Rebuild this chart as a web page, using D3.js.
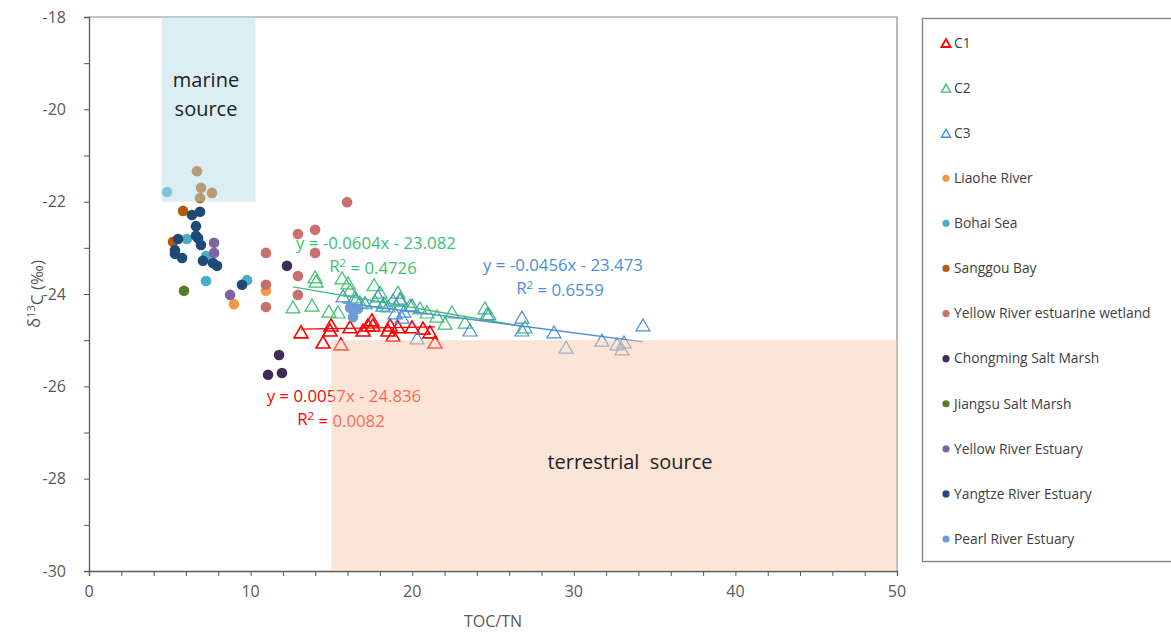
<!DOCTYPE html>
<html>
<head>
<meta charset="utf-8">
<script src="https://cdn.jsdelivr.net/npm/d3@7"></script>
<style>
  body { margin: 0; background: #fff; }
  svg { display: block; font-family: "Open Sans", sans-serif; }
</style>
</head>
<body>
<div id="chart"></div>
<script>
// sediment samples (TOC/TN, d13C)
const c1 = [[13.12,-24.82],[14.48,-25.04],[14.91,-24.78],[14.98,-24.67],[15.59,-25.08],[16.15,-24.71],
  [16.96,-24.78],[17.26,-24.67],[17.51,-24.56],[17.57,-24.67],[18.50,-24.78],[18.63,-24.67],[18.81,-24.89],
  [19.12,-24.71],[19.99,-24.71],[20.67,-24.74],[21.10,-24.82],[21.41,-25.04]];
const c2 = [[12.62,-24.28],[13.80,-24.24],[13.99,-23.63],[14.05,-23.72],[14.85,-24.37],[15.41,-24.39],
  [15.66,-23.65],[16.03,-23.76],[16.15,-23.91],[16.46,-24.06],[16.77,-24.17],[17.64,-23.80],[17.70,-24.15],
  [18.01,-23.96],[18.25,-24.19],[18.50,-24.26],[19.12,-23.96],[19.25,-24.13],[19.86,-24.24],[20.48,-24.30],
  [20.92,-24.39],[21.53,-24.48],[22.03,-24.63],[22.46,-24.39],[23.27,-24.61],[24.50,-24.30],[24.75,-24.43],
  [26.98,-24.71]];
const c3 = [[15.72,-24.04],[16.52,-24.11],[17.08,-24.19],[17.88,-24.04],[18.19,-24.24],[18.81,-24.13],
  [18.94,-24.41],[19.25,-24.09],[19.37,-24.50],[19.49,-24.37],[19.99,-24.24],[20.30,-24.95],[23.58,-24.78],
  [24.63,-24.43],[26.79,-24.50],[26.79,-24.78],[28.77,-24.82],[29.52,-25.15],[31.74,-25.00],[32.67,-25.08],
  [32.98,-25.19],[33.11,-25.04],[34.28,-24.67]];

// literature data
const liaohe = [[8.97,-24.22],[10.95,-23.93]];
const bohai = [[4.83,-21.79],[6.06,-22.81],[7.24,-23.18],[7.24,-23.72],[9.78,-23.70]];
const sanggou = [[6.68,-21.34],[6.93,-21.70],[7.61,-21.81],[6.87,-21.92],[5.82,-22.20],[5.20,-22.87]];
const yrWetland = [[15.97,-22.01],[12.93,-22.70],[13.99,-22.61],[13.99,-23.11],[10.95,-23.11],
  [12.93,-23.61],[12.93,-24.02],[10.95,-23.80],[10.95,-24.28]];
const chongming = [[12.25,-23.39],[11.76,-25.32],[11.08,-25.75],[11.94,-25.71]];
const jiangsu = [[5.88,-23.93]];
const yrEstuary = [[7.74,-22.89],[7.74,-23.11],[8.73,-24.02]];
const yangtze = [[6.37,-22.29],[6.87,-22.22],[6.62,-22.53],[6.62,-22.74],[6.75,-22.79],[6.93,-22.94],
  [5.51,-22.81],[5.32,-23.05],[5.32,-23.13],[5.76,-23.22],[7.05,-23.28],[7.67,-23.33],[7.92,-23.39],[9.47,-23.80]];
const pearl = [[16.34,-24.50],[16.65,-24.32],[16.15,-24.30]];

// linear fits: slope, intercept, r2
const fitC1 = [0.0057, -24.836, 0.0082];
const fitC2 = [-0.0604, -23.082, 0.4726];
const fitC3 = [-0.0456, -23.473, 0.6559];

// source regions [x0, x1, y0, y1]
const marineBox = [4.5, 10.3, -22, -18];
const terrBox = [15, 50, -30, -25];

const xTicks = [0, 10, 20, 30, 40, 50];
const yTicks = [-30, -28, -26, -24, -22, -20, -18];

const triSeries = [
  { name: 'C1', data: c1, color: '#ff0000', fit: fitC1, sw: 1.6 },
  { name: 'C2', data: c2, color: '#3cc071', fit: fitC2, sw: 1.2 },
  { name: 'C3', data: c3, color: '#4a90d6', fit: fitC3, sw: 1.2 }
];
const dotSeries = [
  { name: 'Liaohe River', data: liaohe, color: '#f79646' },
  { name: 'Bohai Sea', data: bohai, color: '#4bacc6' },
  { name: 'Sanggou Bay', data: sanggou, color: '#b65a0a' },
  { name: 'Yellow River estuarine wetland', data: yrWetland, color: '#c8706e' },
  { name: 'Chongming Salt Marsh', data: chongming, color: '#3f2d55' },
  { name: 'Jiangsu Salt Marsh', data: jiangsu, color: '#577a2c' },
  { name: 'Yellow River Estuary', data: yrEstuary, color: '#8064a2' },
  { name: 'Yangtze River Estuary', data: yangtze, color: '#1f4a78' },
  { name: 'Pearl River Estuary', data: pearl, color: '#6c9bd6' }
];

const width = 1171, height = 632;
const x = d3.scaleLinear().domain([0, 50]).range([89, 897]);
const y = d3.scaleLinear().domain([-30, -18]).range([571, 17]);

const svg = d3.select('#chart').append('svg')
  .attr('width', width)
  .attr('height', height);

const triPath = 'M0,-6L7,6L-7,6Z';

// plot border (top / right)
svg.append('path')
  .attr('d', `M${x(0)},${y(-18)}H${x(50)}V${y(-30)}`)
  .attr('fill', 'none')
  .attr('stroke', '#8c8c8c')
  .attr('stroke-width', 1.2);

// triangles
triSeries.forEach(s => {
  svg.append('g').selectAll('path')
    .data(s.data)
    .enter()
    .append('path')
    .attr('d', triPath)
    .attr('transform', d => `translate(${x(d[0])},${y(d[1])})`)
    .attr('fill', 'none')
    .attr('stroke', s.color)
    .attr('stroke-width', s.sw);
});

// trend lines
triSeries.forEach(s => {
  const ext = d3.extent(s.data, d => d[0]);
  svg.append('line')
    .attr('x1', x(ext[0])).attr('y1', y(s.fit[0] * ext[0] + s.fit[1]))
    .attr('x2', x(ext[1])).attr('y2', y(s.fit[0] * ext[1] + s.fit[1]))
    .attr('stroke', s.color)
    .attr('stroke-width', 1.3);
});

// circles
dotSeries.forEach(s => {
  svg.append('g').selectAll('circle')
    .data(s.data)
    .enter()
    .append('circle')
    .attr('cx', d => x(d[0]))
    .attr('cy', d => y(d[1]))
    .attr('r', 5.3)
    .attr('fill', s.color);
});

// equations
function eqText(s) {
  const sign = s.fit[1] < 0 ? ' - ' : ' + ';
  return 'y = ' + s.fit[0].toFixed(4) + 'x' + sign + Math.abs(s.fit[1]).toFixed(3);
}
const eqPos = [[344, 396], [376, 243], [563, 265]];
triSeries.forEach((s, i) => {
  const g = svg.append('g')
    .attr('fill', s.color)
    .attr('font-size', 16.8)
    .attr('text-anchor', 'middle');
  g.append('text')
    .attr('x', eqPos[i][0]).attr('y', eqPos[i][1])
    .attr('dy', '0.35em')
    .text(eqText(s));
  const r = g.append('text')
    .attr('x', eqPos[i][0] - 3).attr('y', eqPos[i][1] + 23)
    .attr('dy', '0.35em');
  r.append('tspan').text('R');
  r.append('tspan').attr('dy', '-0.4em').attr('font-size', 11.5).text('2');
  r.append('tspan').attr('dy', '0.4em').text(' = ' + s.fit[2].toFixed(4));
});

// axes
const xAxis = d3.axisBottom(x).tickValues(d3.range(0, 51, 2)).tickSize(5).tickFormat('');
svg.append('g')
  .attr('transform', `translate(0,${y(-30)})`)
  .call(xAxis)
  .call(g => g.select('.domain').attr('stroke', '#595959').attr('stroke-width', 1.3))
  .call(g => g.selectAll('line').attr('stroke', '#595959'));
svg.append('g').selectAll('text')
  .data(xTicks)
  .enter()
  .append('text')
  .attr('x', d => x(d))
  .attr('y', 591)
  .attr('dy', '0.35em')
  .attr('text-anchor', 'middle')
  .attr('font-size', 16)
  .attr('fill', '#595959')
  .text(d => d);

const yAxis = d3.axisLeft(y).tickValues(d3.range(-30, -17, 1)).tickSize(5).tickFormat('');
svg.append('g')
  .attr('transform', `translate(${x(0)},0)`)
  .call(yAxis)
  .call(g => g.select('.domain').attr('stroke', '#595959').attr('stroke-width', 1.3))
  .call(g => g.selectAll('line').attr('stroke', '#595959'));
svg.append('g').selectAll('text')
  .data(yTicks)
  .enter()
  .append('text')
  .attr('x', 66)
  .attr('y', d => y(d))
  .attr('dy', '0.35em')
  .attr('text-anchor', 'end')
  .attr('font-size', 16)
  .attr('fill', '#595959')
  .text(d => d);

svg.append('text')
  .attr('x', x(25)).attr('y', 621)
  .attr('dy', '0.35em')
  .attr('text-anchor', 'middle')
  .attr('font-size', 16)
  .attr('fill', '#595959')
  .text('TOC/TN');

const yt = svg.append('text')
  .attr('transform', 'translate(34,294) rotate(-90)')
  .attr('text-anchor', 'middle')
  .attr('dy', '0.35em')
  .attr('font-size', 17)
  .attr('fill', '#595959');
yt.append('tspan').text('δ');
yt.append('tspan').attr('dy', '-0.45em').attr('font-size', 11).text('13');
yt.append('tspan').attr('dy', '0.45em').text('C (‰)');

// source regions (semi-transparent, on top of points)
svg.append('rect')
  .attr('x', x(marineBox[0])).attr('y', y(marineBox[3]))
  .attr('width', x(marineBox[1]) - x(marineBox[0]))
  .attr('height', y(marineBox[2]) - y(marineBox[3]))
  .attr('fill', '#b5dde7').attr('fill-opacity', 0.5);
svg.append('rect')
  .attr('x', x(terrBox[0])).attr('y', y(terrBox[3]))
  .attr('width', x(terrBox[1]) - x(terrBox[0]))
  .attr('height', y(terrBox[2]) - y(terrBox[3]))
  .attr('fill', '#f9c9ad').attr('fill-opacity', 0.5);

svg.append('text').attr('x', 206).attr('y', 80).attr('dy', '0.35em')
  .attr('text-anchor', 'middle').attr('font-size', 20).attr('fill', '#222').text('marine');
svg.append('text').attr('x', 206).attr('y', 109).attr('dy', '0.35em')
  .attr('text-anchor', 'middle').attr('font-size', 20).attr('fill', '#222').text('source');
svg.append('text').attr('x', 630).attr('y', 462).attr('dy', '0.35em')
  .attr('text-anchor', 'middle').attr('font-size', 20).attr('fill', '#222')
  .attr('xml:space', 'preserve').text('terrestrial  source');

// legend
svg.append('rect')
  .attr('x', 922.5).attr('y', 18.5)
  .attr('width', 260).attr('height', 543)
  .attr('fill', 'none')
  .attr('stroke', '#7f7f7f')
  .attr('stroke-width', 1.3);

const legendItems = triSeries.map(s => ({ name: s.name, color: s.color, tri: true, sw: s.sw }))
  .concat(dotSeries.map(s => ({ name: s.name, color: s.color, tri: false })));
const ly = d3.scalePoint().domain(legendItems.map(d => d.name)).range([43, 539]);

const li = svg.append('g').selectAll('g')
  .data(legendItems)
  .enter()
  .append('g')
  .attr('transform', d => `translate(946,${ly(d.name)})`);
li.filter(d => d.tri).append('path')
  .attr('d', 'M0,-4L4.5,4L-4.5,4Z')
  .attr('fill', 'none')
  .attr('stroke', d => d.color)
  .attr('stroke-width', d => d.sw + 0.2);
li.filter(d => !d.tri).append('circle')
  .attr('r', 3.6)
  .attr('fill', d => d.color);
li.append('text')
  .attr('x', 8)
  .attr('dy', '0.35em')
  .attr('font-size', 13.8)
  .attr('fill', '#404040')
  .text(d => d.name);
</script>
</body>
</html>
